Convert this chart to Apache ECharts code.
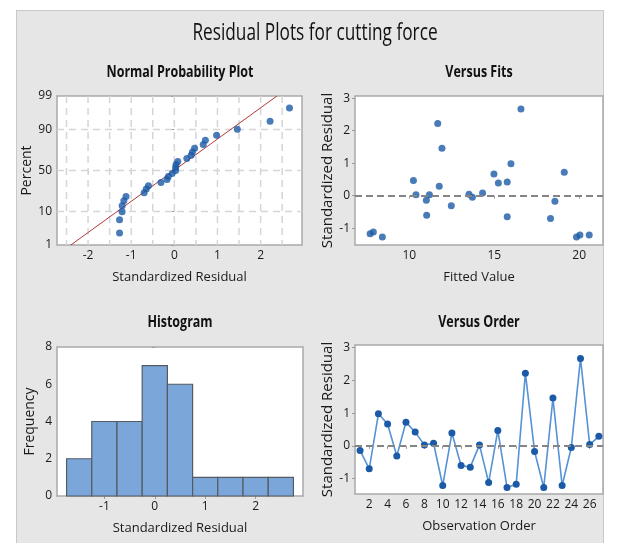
<!DOCTYPE html>
<html>
<head>
<meta charset="utf-8">
<script src="https://cdn.jsdelivr.net/npm/echarts@6/dist/echarts.min.js"></script>
<style>
  html, body { margin: 0; padding: 0; background: #ffffff; }
  #wrap { position: relative; width: 621px; height: 543px; overflow: hidden; }
  #panel { position: absolute; left: 16px; top: 10px; width: 588px; height: 540px;
           background: #e6e6e6; border: 1px solid #c9c9c9; box-sizing: border-box; }
  #chart { position: absolute; left: 0; top: 0; width: 621px; height: 543px; }
</style>
</head>
<body>
<div id="wrap"><div id="panel"></div><div id="chart"></div></div>
<script>
// Standardized residuals, in observation order (27 runs)
const residuals = [-0.14, -0.70, 0.98, 0.67, -0.31, 0.72, 0.42, 0.03, 0.08, -1.21,
                   0.39, -0.60, -0.65, 0.03, -1.12, 0.47, -1.27, -1.17, 2.22, -0.17,
                   -1.27, 1.46, -1.21, -0.05, 2.67, 0.04, 0.29];
// Fitted cutting force for each observation
const fittedValues = [11.00, 18.31, 15.98, 14.98, 12.47, 19.12, 15.76, 10.39, 14.31, 20.04,
                      15.24, 11.02, 15.76, 11.18, 7.88, 10.24, 8.41, 7.69, 11.67, 18.57,
                      19.84, 11.92, 20.59, 13.71, 16.57, 13.51, 11.76];
// Histogram bins of the standardized residuals
const histBinCenters = [-1.5, -1, -0.5, 0, 0.5, 1, 1.5, 2, 2.5];
const histCounts = [2, 4, 4, 7, 6, 1, 1, 1, 1];
const histBinWidth = 0.5;
// Reference line of the normal probability plot (residual at 1% and 99%)
const refLineResidual = [-2.4, 2.38];
const refLinePercent = [1, 99];
// Tick and grid positions
const percentTicks = [1, 10, 50, 90, 99];
const percentGrid = [10, 50, 90];
const nppTicksX = [-2, -1, 0, 1, 2];
const nppGridX = [-2.5, -2, -1.5, -1, -0.5, 0, 0.5, 1, 1.5, 2, 2.5];
const fitsTicksX = [10, 15, 20];
const residTicksY = [-1, 0, 1, 2, 3];
const freqTicksY = [0, 2, 4, 6, 8];
const orderTicksX = [2, 4, 6, 8, 10, 12, 14, 16, 18, 20, 22, 24, 26];
const histTicksX = [-1, 0, 1, 2];

// Inverse of the standard normal CDF (Acklam's rational approximation)
function qnorm(p) {
  const a = [-3.969683028665376e+01, 2.209460984245205e+02, -2.759285104469687e+02,
             1.383577518672690e+02, -3.066479806614716e+01, 2.506628277459239e+00];
  const b = [-5.447609879822406e+01, 1.615858368580409e+02, -1.556989798598866e+02,
             6.680131188771972e+01, -1.328068155288572e+01];
  const c = [-7.784894002430293e-03, -3.223964580411365e-01, -2.400758277161838e+00,
             -2.549732539343734e+00, 4.374664141464968e+00, 2.938163982698783e+00];
  const d = [7.784695709041462e-03, 3.224671290700398e-01, 2.445134137142996e+00,
             3.754408661907416e+00];
  const pl = 0.02425, ph = 1 - pl;
  let q, r;
  if (p < pl) {
    q = Math.sqrt(-2 * Math.log(p));
    return (((((c[0]*q+c[1])*q+c[2])*q+c[3])*q+c[4])*q+c[5]) / ((((d[0]*q+d[1])*q+d[2])*q+d[3])*q+1);
  }
  if (p <= ph) {
    q = p - 0.5; r = q * q;
    return (((((a[0]*r+a[1])*r+a[2])*r+a[3])*r+a[4])*r+a[5])*q / (((((b[0]*r+b[1])*r+b[2])*r+b[3])*r+b[4])*r+1);
  }
  q = Math.sqrt(-2 * Math.log(1 - p));
  return -(((((c[0]*q+c[1])*q+c[2])*q+c[3])*q+c[4])*q+c[5]) / ((((d[0]*q+d[1])*q+d[2])*q+d[3])*q+1);
}

// Normal probability plot positions: median ranks (i - 0.3) / (n + 0.4)
const sortedRes = residuals.slice().sort((x, y) => x - y);
const n = sortedRes.length;
const nppData = sortedRes.map((v, i) => [v, qnorm((i + 1 - 0.3) / (n + 0.4))]);
const refLineData = refLineResidual.map((v, i) => [v, qnorm(refLinePercent[i] / 100)]);
const zOfPct = p => qnorm(p / 100);

const FONT = "'Open Sans', 'Noto Sans', sans-serif";
const TXT = '#1a1a1a';
const BLUE = '#1b5aa6';
const LINEBLUE = '#5593d4';

const labelStyle = { color: TXT, fontSize: 12, fontFamily: FONT, margin: 5 };
const tickStyle = { show: true, length: 3, lineStyle: { color: '#9a9a9a', width: 1 } };

function valAxis(grid, min, max, ticks, fmt, name, gap, nameSize) {
  return {
    type: 'value', gridIndex: grid, min: min, max: max,
    axisLine: { show: false },
    axisTick: Object.assign({ customValues: ticks }, tickStyle),
    axisLabel: Object.assign({ customValues: ticks, formatter: fmt || (v => String(v)) }, labelStyle),
    splitLine: { show: false },
    name: name, nameLocation: 'middle', nameGap: gap,
    nameTextStyle: { color: TXT, fontSize: nameSize, fontFamily: FONT }
  };
}

const gridBox = { show: true, backgroundColor: '#ffffff', borderColor: '#a9a9a9', borderWidth: 1.5 };
const zeroLine = { color: '#858585', width: 2, type: [7, 4] };

const pctFmt = v => {
  let best = percentTicks[0];
  percentTicks.forEach(p => { if (Math.abs(zOfPct(p) - v) < Math.abs(zOfPct(best) - v)) best = p; });
  return String(best);
};

function heading(text, x, y, size, weight, sx) {
  return { type: 'text', x: x, y: y, scaleX: sx, z: 10,
           style: { text: text, fontSize: size, fontWeight: weight, fontFamily: FONT,
                    fill: '#111', align: 'center', verticalAlign: 'middle' } };
}

// Dashed reference grid of the probability plot, spanning the whole plot area
function gridLineItem(params, api) {
  const cs = params.coordSys;
  const dir = api.value(0);
  const v = api.value(1);
  let shape;
  if (dir === 0) {
    const x = api.coord([v, 0])[0];
    shape = { x1: x, y1: cs.y, x2: x, y2: cs.y + cs.height };
  } else {
    const y = api.coord([0, v])[1];
    shape = { x1: cs.x, y1: y, x2: cs.x + cs.width, y2: y };
  }
  return { type: 'line', shape: shape, style: { stroke: '#d6d6d6', lineWidth: 1.5, lineDash: [7, 5] } };
}

const option = {
  animation: false,
  backgroundColor: 'transparent',
  textStyle: { fontFamily: FONT },
  graphic: [
    heading('Residual Plots for cutting force', 315, 33, 23, 500, 0.75),
    heading('Normal Probability Plot', 180, 72, 16, 'bold', 0.78),
    heading('Versus Fits', 479, 72, 16, 'bold', 0.78),
    heading('Histogram', 180, 322, 16, 'bold', 0.78),
    heading('Versus Order', 479, 322, 16, 'bold', 0.78)
  ],
  grid: [
    Object.assign({ left: 57, top: 96, width: 245, height: 149 }, gridBox),
    Object.assign({ left: 355, top: 96, width: 248, height: 149 }, gridBox),
    Object.assign({ left: 57, top: 347, width: 246, height: 149 }, gridBox),
    Object.assign({ left: 355, top: 345, width: 248, height: 149 }, gridBox)
  ],
  xAxis: [
    valAxis(0, -2.72, 2.96, nppTicksX, null, 'Standardized Residual', 26, 13),
    valAxis(1, 6.8, 21.4, fitsTicksX, null, 'Fitted Value', 26, 13),
    valAxis(2, -1.94, 2.94, histTicksX, null, 'Standardized Residual', 26, 13),
    valAxis(3, 0.45, 27.45, orderTicksX, null, 'Observation Order', 26, 13)
  ],
  yAxis: [
    valAxis(0, zOfPct(1), zOfPct(99), percentTicks.map(zOfPct), pctFmt, 'Percent', 20, 14),
    valAxis(1, -1.52, 3.07, residTicksY, null, 'Standardized Residual', 17, 15),
    valAxis(2, 0, 8, freqTicksY, null, 'Frequency', 20, 14),
    valAxis(3, -1.47, 3.08, residTicksY, null, 'Standardized Residual', 17, 15)
  ],
  series: [
    {
      type: 'custom', xAxisIndex: 0, yAxisIndex: 0, z: 1, silent: true,
      data: nppGridX.map(v => [0, v]).concat(percentGrid.map(p => [1, zOfPct(p)])),
      renderItem: gridLineItem
    },
    // Fitted normal line
    {
      type: 'line', xAxisIndex: 0, yAxisIndex: 0, data: refLineData, z: 2,
      symbol: 'none', lineStyle: { color: '#b2393b', width: 1 }
    },
    {
      type: 'scatter', xAxisIndex: 0, yAxisIndex: 0, data: nppData, z: 3,
      symbolSize: 7, itemStyle: { color: BLUE }
    },
    // Versus fits
    {
      type: 'scatter', xAxisIndex: 1, yAxisIndex: 1, z: 3,
      data: fittedValues.map((f, i) => [f, residuals[i]]),
      symbolSize: 7, itemStyle: { color: BLUE },
      markLine: { silent: true, symbol: 'none', label: { show: false }, lineStyle: zeroLine, data: [{ yAxis: 0 }] }
    },
    // Histogram bars
    {
      type: 'custom', xAxisIndex: 2, yAxisIndex: 2, z: 2,
      data: histBinCenters.map((c, i) => [c - histBinWidth / 2, c + histBinWidth / 2, histCounts[i]]),
      renderItem: (params, api) => {
        const p0 = api.coord([api.value(0), api.value(2)]);
        const p1 = api.coord([api.value(1), 0]);
        return {
          type: 'rect',
          shape: { x: p0[0], y: p0[1], width: p1[0] - p0[0], height: p1[1] - p0[1] },
          style: { fill: '#7ba6da', stroke: '#555b63', lineWidth: 1.2 }
        };
      }
    },
    // Versus order
    {
      type: 'line', xAxisIndex: 3, yAxisIndex: 3, z: 3,
      data: residuals.map((r, i) => [i + 1, r]),
      symbol: 'circle', symbolSize: 7, showSymbol: true,
      lineStyle: { color: LINEBLUE, width: 1.6 }, itemStyle: { color: BLUE },
      markLine: { silent: true, symbol: 'none', label: { show: false }, lineStyle: zeroLine, data: [{ yAxis: 0 }] }
    }
  ]
};

const chart = echarts.init(document.getElementById('chart'), null, { renderer: 'canvas' });
chart.setOption(option);
</script>
</body>
</html>
